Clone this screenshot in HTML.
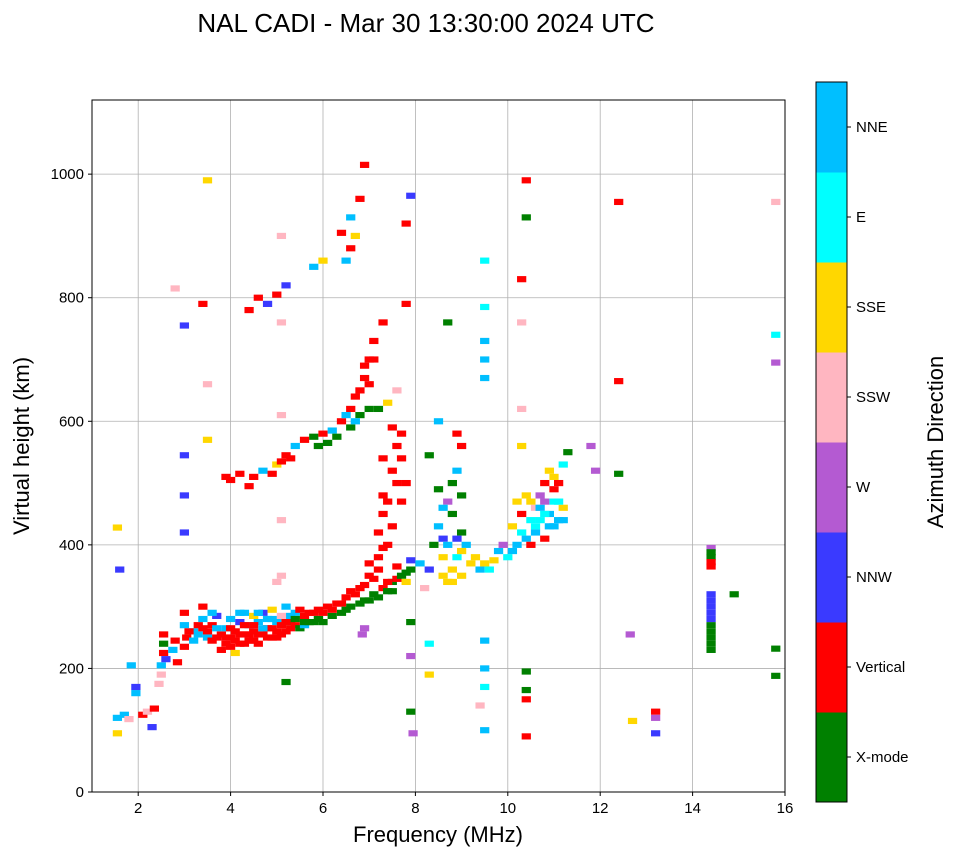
<!DOCTYPE html>
<html><head><meta charset="utf-8"><style>
body{margin:0;background:#fff;}
svg text{font-family:"Liberation Sans",sans-serif;fill:#000;}
</style></head><body>
<svg id="chart" width="958" height="857" viewBox="0 0 958 857" xmlns="http://www.w3.org/2000/svg">
<text x="426" y="32" font-size="26" text-anchor="middle">NAL CADI - Mar 30 13:30:00 2024 UTC</text>
<g id="grid"></g>
<g id="marks"></g>
<rect x="92" y="100" width="693" height="692" fill="none" stroke="#000" stroke-width="1"/>
<g id="xticks"></g>
<g id="yticks"></g>
<text x="438" y="842" font-size="22" text-anchor="middle">Frequency (MHz)</text>
<text transform="translate(29,446) rotate(-90)" font-size="22" text-anchor="middle">Virtual height (km)</text>
<g id="cbar"></g>
<text transform="translate(943,442) rotate(-90)" font-size="22" text-anchor="middle">Azimuth Direction</text>
</svg>
<script>
const xTicks = [2,4,6,8,10,12,14,16];
const yTicks = [0,200,400,600,800,1000];
const modeNames = ["X-mode","Vertical","NNW","W","SSW","SSE","E","NNE"];
const modeColors = ["#008000","#ff0000","#3a3aff","#b45ad2","#ffb6c1","#ffd700","#00ffff","#00bfff"];
// [frequency MHz, virtual height km, mode index]
const echoes = [
[1.55,95,5],[1.55,120,7],[1.6,360,2],[1.55,428,5],[1.7,125,7],[1.8,118,4],[1.85,205,7],[1.95,160,7],[1.95,170,2],[2.1,125,1],[2.2,130,4],[2.35,135,1],[2.3,105,2],[2.45,175,4],[2.5,190,4],[2.5,205,7],[2.55,225,1],[2.55,240,0],[2.55,255,1],[2.6,215,2],[2.75,230,7],[2.8,245,1],[2.85,210,1],
[3.0,290,1],[3.0,270,7],[3.05,250,1],[3.0,235,1],[3.2,260,7],[3.3,255,7],[3.4,265,1],[3.4,300,1],[3.5,250,7],[3.6,270,1],[3.6,245,1],[3.7,285,2],[3.8,255,1],[3.8,230,1],[3.9,265,7],[3.9,240,1],[4.0,250,1],[4.0,280,7],[4.1,225,5],[4.1,260,1],[4.2,240,1],[4.2,275,2],[4.3,255,1],[4.3,290,7],[4.4,245,1],[4.4,270,7],[4.5,260,1],[4.5,285,5],[4.6,240,1],[4.6,275,7],[4.7,255,1],[4.7,290,2],[4.8,265,1],[4.8,280,7],[4.9,250,1],[4.9,295,5],[5.0,260,1],[5.0,275,7],[5.1,270,1],[5.1,285,4],[5.2,260,1],[5.2,300,7],[5.3,275,0],[5.3,265,1],[5.4,290,7],[5.4,270,1],[5.5,280,5],[5.5,265,0],[5.6,285,1],[5.6,270,7],[5.7,275,0],[5.8,290,1],[5.9,280,0],[6.0,290,1],[6.0,275,0],
[3.1,260,1],[3.2,245,7],[3.3,270,1],[3.5,260,1],[3.7,250,1],[3.7,265,7],[3.9,250,1],[4.0,235,1],[4.0,265,1],[4.1,245,1],[4.2,255,1],[4.3,240,1],[4.3,270,1],[4.4,255,1],[4.5,245,1],[4.5,270,1],[4.6,255,1],[4.7,265,7],[4.8,250,1],[4.9,265,1],[4.9,280,7],[5.0,250,1],[5.1,255,1],[5.2,275,1],[5.3,285,7],[5.4,280,0],[5.5,295,1],[5.6,275,0],[5.7,290,1],[5.8,275,0],[5.9,295,1],[4.6,290,7],[4.2,290,7],[3.6,290,7],[3.4,280,7],
[6.1,300,1],[6.2,285,0],[6.3,305,1],[6.4,290,0],[6.5,315,1],[6.6,300,0],[6.7,320,1],[6.8,305,0],[6.9,335,1],[7.0,310,0],[7.1,345,1],[7.2,315,0],[7.3,330,1],[7.4,325,0],[7.5,340,0],[7.6,345,1],[7.7,350,0],[7.8,340,5],[7.9,360,0],[7.9,375,2],[6.85,255,3],[6.9,265,3],
[6.2,295,1],[6.4,305,1],[6.5,295,0],[6.6,325,1],[6.8,330,1],[6.9,310,0],[7.0,350,1],[7.1,320,0],[7.2,360,1],[7.4,340,1],[7.5,325,0],[7.6,365,1],[7.8,355,0],[7.0,370,1],[7.3,395,1],
[7.2,420,1],[7.3,450,1],[7.3,480,1],[7.4,400,1],[7.5,520,1],[7.6,560,1],[7.7,470,1],[7.8,500,1],[7.5,430,1],[7.2,380,1],
[7.4,470,1],[7.6,500,1],[7.7,540,1],[7.5,590,1],[7.3,540,1],
[8.1,370,7],[8.2,330,4],[8.3,360,2],[8.4,400,0],[8.5,490,0],[8.5,430,7],[8.6,350,5],[8.6,410,2],[8.7,340,5],[8.7,470,3],[8.8,360,5],[8.8,450,0],[8.9,380,6],[8.9,520,7],[8.9,580,1],[9.0,350,5],[9.0,420,0],[9.0,480,0],[9.1,400,7],[9.2,370,5],[8.3,545,0],[8.5,600,7],[8.7,760,0],
[8.6,380,5],[8.7,400,7],[8.8,340,5],[8.9,410,2],[9.0,390,5],[9.0,560,1],[8.8,500,0],[8.6,460,7],
[9.3,380,5],[9.4,360,7],[9.5,370,5],[9.6,360,6],[9.7,375,5],[9.8,390,7],[9.9,400,3],[10.0,380,6],[10.1,390,7],[10.1,430,5],[10.2,470,5],[10.2,400,7],[10.3,420,6],[10.3,450,1],[10.4,480,5],[10.4,410,7],[10.5,440,6],[10.5,400,1],[10.6,460,4],[10.6,420,7],[10.7,480,3],[10.7,440,6],[10.8,500,1],[10.8,410,1],[10.9,450,7],[10.9,520,5],[11.0,470,6],[11.0,430,7],[11.1,500,1],[11.1,440,7],[11.2,530,6],[11.2,460,5],[11.3,550,0],
[10.6,430,6],[10.7,460,7],[10.8,450,6],[10.9,430,7],[11.0,490,1],[11.1,470,6],[11.2,440,7],[10.5,470,5],[10.8,470,3],[11.0,510,5],
[3.9,510,1],[4.0,505,1],[4.2,515,1],[4.4,495,1],[4.5,510,1],[4.7,520,7],[4.9,515,1],[5.0,530,5],[5.1,535,1],[5.2,545,1],[5.3,540,1],[5.4,560,7],[5.6,570,1],[5.8,575,0],[5.9,560,0],[6.0,580,1],[6.1,565,0],[6.2,585,7],[6.3,575,0],[6.4,600,1],[6.5,610,7],[6.6,590,0],[6.7,640,1],[6.8,610,0],[6.9,670,1],[7.0,700,1],[7.0,620,0],[7.1,730,1],[7.3,760,1],[7.4,630,5],[7.6,650,4],[7.8,790,1],[7.7,580,1],
[6.6,620,1],[6.7,600,7],[6.8,650,1],[6.9,690,1],[7.0,660,1],[7.1,700,1],[7.2,620,0],
[5.0,805,1],[4.8,790,2],[4.6,800,1],[5.2,820,2],[5.8,850,7],[6.0,860,5],[6.5,860,7],[6.4,905,1],[6.6,880,1],[6.7,900,5],[6.8,960,1],[6.9,1015,1],[6.6,930,7],
[5.1,760,4],[5.1,900,4],[5.1,610,4],[5.1,440,4],[5.1,350,4],
[3.0,420,2],[3.0,480,2],[3.0,545,2],[3.0,755,2],[3.4,790,1],[2.8,815,4],[3.5,660,4],[3.5,570,5],[3.5,990,5],[4.4,780,1],[7.9,965,2],[7.8,920,1],[9.5,860,6],[9.5,785,6],[9.5,730,7],[9.5,700,7],[9.5,670,7],[10.4,990,1],[10.4,930,0],[10.3,830,1],[10.3,760,4],[10.3,620,4],[10.3,560,5],[12.4,955,1],[12.4,665,1],[11.8,560,3],[11.9,520,3],[12.4,515,0],[8.3,240,6],[8.3,190,5],[9.5,245,7],[9.5,200,7],[9.5,170,6],[9.5,100,7],[10.4,195,0],[10.4,165,0],[10.4,150,1],[10.4,90,1],[9.4,140,4],[7.9,275,0],[7.9,220,3],[7.9,130,0],[7.95,95,3],[5.2,178,0],[5.0,340,4],[13.2,130,1],[13.2,120,3],[13.2,95,2],[12.7,115,5],[12.65,255,3],[14.9,320,0],[15.8,955,4],[15.8,740,6],[15.8,695,3],[15.8,232,0],[15.8,188,0],
[14.4,230,0],[14.4,250,0],[14.4,270,0],[14.4,290,2],[14.4,310,2],[14.4,320,2],[14.4,365,1],[14.4,380,0],[14.4,395,3],[14.4,240,0],[14.4,260,0],[14.4,280,2],[14.4,300,2],[14.4,372,1],[14.4,388,0]
];
const NS="http://www.w3.org/2000/svg";
const X0=92,X1=785,Y0=792,Y1=100,FMIN=1,FMAX=16,HMIN=0,HMAX=1120;
const xs=f=>X0+(f-FMIN)/(FMAX-FMIN)*(X1-X0);
const ys=h=>Y0-(h-HMIN)/(HMAX-HMIN)*(Y0-Y1);
function mk(tag,attrs,parent){const e=document.createElementNS(NS,tag);for(const k in attrs)e.setAttribute(k,attrs[k]);parent.appendChild(e);return e;}
const grid=document.getElementById('grid'),xt=document.getElementById('xticks'),yt=document.getElementById('yticks');
xTicks.forEach(v=>{const x=xs(v);
 const g=mk('line',{x1:x,x2:x,y1:Y1,y2:Y0,stroke:'#b0b0b0','stroke-width':0.8},grid);
 
 
 mk('line',{x1:x,x2:x,y1:Y0,y2:Y0+4,stroke:'#000'},xt);
 const t=mk('text',{x:x,y:Y0+21,'font-size':15,'text-anchor':'middle'},xt);t.textContent=v;
 
 });
yTicks.forEach(v=>{const y=ys(v);
 const g=mk('line',{x1:X0,x2:X1,y1:y,y2:y,stroke:'#b0b0b0','stroke-width':0.8},grid);
 
 
 mk('line',{x1:X0-4,x2:X0,y1:y,y2:y,stroke:'#000'},yt);
 const t=mk('text',{x:X0-8,y:y+5,'font-size':15,'text-anchor':'end'},yt);t.textContent=v;
 
 });
const marks=document.getElementById('marks');
const CW=0.2,CH=10;
echoes.forEach(([f,h,m])=>{
 const r=mk('rect',{x:xs(f-CW/2),y:ys(h+CH/2),width:xs(f+CW/2)-xs(f-CW/2),height:ys(h-CH/2)-ys(h+CH/2),fill:modeColors[m]},marks);
 
 
});
const cb=document.getElementById('cbar');const CBX=816,CBW=31,CBT=82,CBB=802;const seg=(CBB-CBT)/modeNames.length;
modeNames.forEach((n,i)=>{const y0=CBB-(i+1)*seg;
 const r=mk('rect',{x:CBX,y:y0,width:CBW,height:seg+0.5,fill:modeColors[i]},cb);
 
 
 mk('line',{x1:CBX+CBW,x2:CBX+CBW+4,y1:y0+seg/2,y2:y0+seg/2,stroke:'#000'},cb);
 const t=mk('text',{x:CBX+CBW+9,y:y0+seg/2+5,'font-size':15},cb);t.textContent=n;
 
 });
mk('rect',{x:CBX,y:CBT,width:CBW,height:CBB-CBT,fill:'none',stroke:'#000'},cb);
</script>
</body></html>
